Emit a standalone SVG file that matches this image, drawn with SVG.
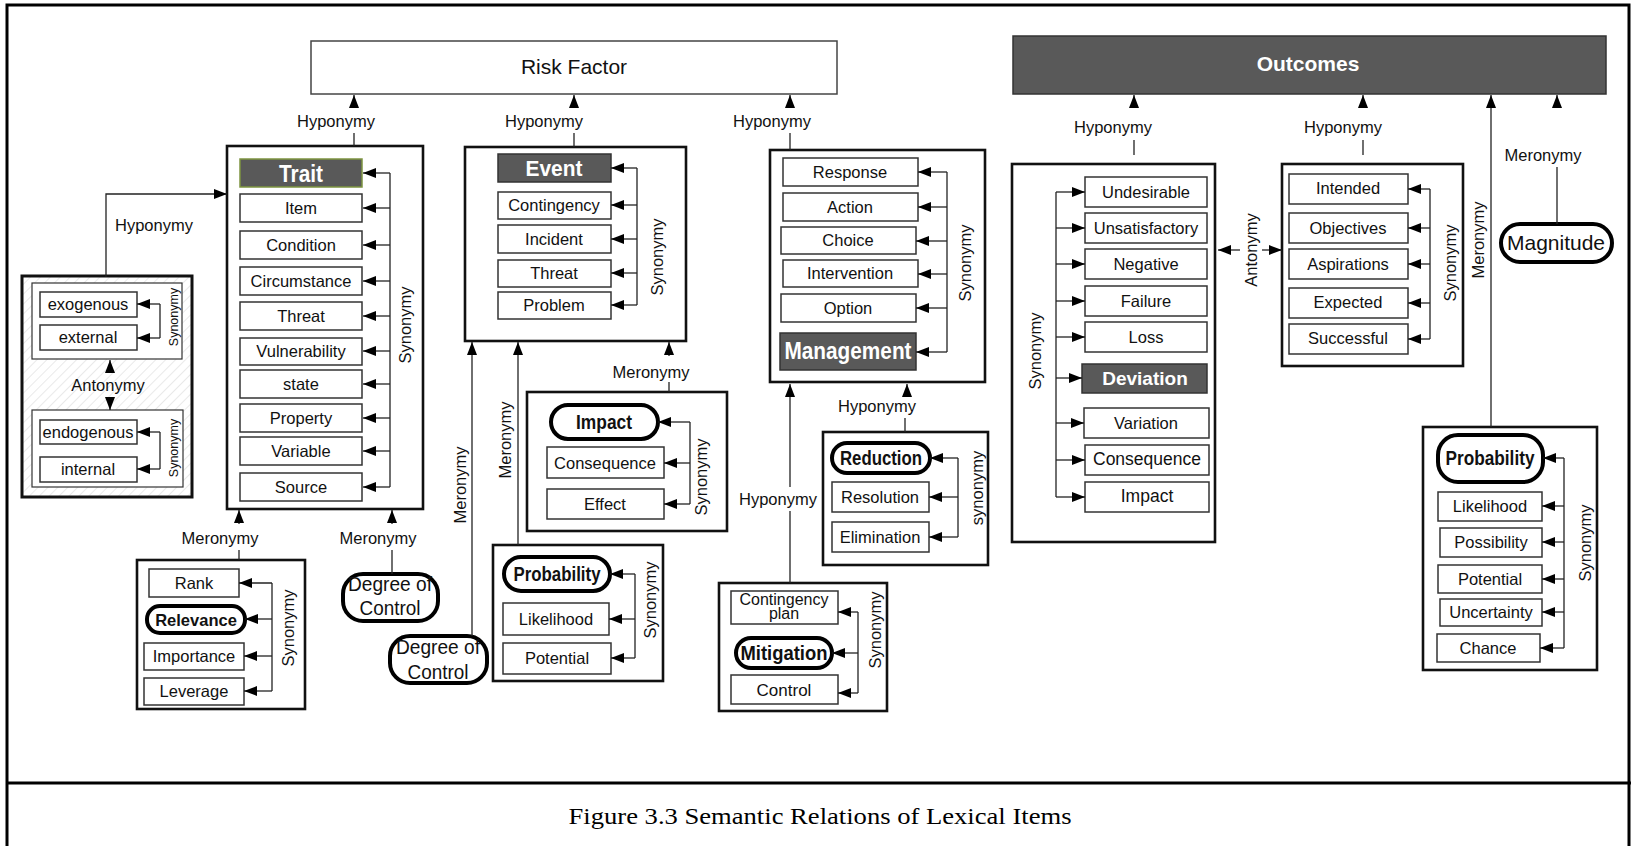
<svg xmlns="http://www.w3.org/2000/svg" width="1631" height="846" viewBox="0 0 1631 846">
<style>
.grp{fill:#fff;stroke:#111;stroke-width:2.6}
.box{fill:#fff;stroke:#333;stroke-width:1.5}
.key{fill:#fff;stroke:#000;stroke-width:4}
.hdr{fill:#595959;stroke:#333;stroke-width:1.5}
.ln{fill:none;stroke:#222;stroke-width:1.3}
.t{font-family:"Liberation Sans",Arial,sans-serif;font-size:16.5px;fill:#111;text-anchor:middle;dominant-baseline:central}
.s{font-size:12.5px}
.b{font-weight:bold}
.w{font-weight:bold;fill:#fff}
.dc{font-size:20px}
</style>
<defs>
<marker id="ah" viewBox="0 0 13 10" refX="13" refY="5" markerWidth="13" markerHeight="10" markerUnits="userSpaceOnUse" orient="auto-start-reverse">
<path d="M0,0 L13,5 L0,10 z" fill="#000"/>
</marker>
<pattern id="hatch" width="7" height="7" patternUnits="userSpaceOnUse" patternTransform="rotate(45)">
<rect width="7" height="7" fill="#fff"/>
<line x1="0" y1="0" x2="0" y2="7" stroke="#e2e2e2" stroke-width="1.5"/>
</pattern>
</defs>

<!-- page frame and caption -->
<g id="frame">
<path d="M7,846 V5 H1629 V846" fill="none" stroke="#000" stroke-width="3"/>
<path d="M7,783 H1631" stroke="#000" stroke-width="3"/>
<text x="820" y="816" textLength="503" lengthAdjust="spacingAndGlyphs" style="font-family:'Liberation Serif','Times New Roman',serif;font-size:24px;fill:#000;text-anchor:middle;dominant-baseline:central">Figure 3.3 Semantic Relations of Lexical Items</text>
</g>

<!-- nodes -->
<g id="risk-factor">
<rect x="311" y="41" width="526" height="53" fill="#fff" stroke="#444" stroke-width="1.5"/>
<text class="t" x="574" y="66" style="font-size:21px">Risk Factor</text>
</g>

<g id="outcomes">
<rect x="1013" y="36" width="593" height="58" fill="#595959" stroke="#333" stroke-width="1.5"/>
<text class="t w" x="1308" y="63" style="font-size:21px">Outcomes</text>
</g>

<g id="trait-group">
<rect class="grp" x="227" y="146" width="196" height="363"/>
<rect x="240" y="159" width="122" height="28" fill="#595959" stroke="#7d9440" stroke-width="1.5"/>
<text class="t w" x="301" y="174" style="font-size:23px" textLength="44" lengthAdjust="spacingAndGlyphs">Trait</text>
<rect class="box" x="240" y="194" width="122" height="28"/><text class="t" x="301" y="208">Item</text>
<rect class="box" x="240" y="231" width="122" height="28"/><text class="t" x="301" y="245">Condition</text>
<rect class="box" x="240" y="267" width="122" height="28"/><text class="t" x="301" y="281">Circumstance</text>
<rect class="box" x="240" y="302" width="122" height="28"/><text class="t" x="301" y="316">Threat</text>
<rect class="box" x="240" y="338" width="122" height="27"/><text class="t" x="301" y="351">Vulnerability</text>
<rect class="box" x="240" y="370" width="122" height="28"/><text class="t" x="301" y="384">state</text>
<rect class="box" x="240" y="404" width="122" height="28"/><text class="t" x="301" y="418">Property</text>
<rect class="box" x="240" y="437" width="122" height="28"/><text class="t" x="301" y="451">Variable</text>
<rect class="box" x="240" y="473" width="122" height="28"/><text class="t" x="301" y="487">Source</text>
</g>

<g id="exo-endo-group">
<rect x="22" y="276" width="170" height="221" fill="url(#hatch)" stroke="#111" stroke-width="3"/>
<rect x="32" y="283" width="150" height="76" fill="#fff" stroke="#333" stroke-width="1.2"/>
<rect x="32" y="410" width="151" height="77" fill="#fff" stroke="#333" stroke-width="1.2"/>
<rect class="box" x="40" y="292" width="97" height="25"/><text class="t" x="88" y="304">exogenous</text>
<rect class="box" x="40" y="325" width="97" height="25"/><text class="t" x="88" y="337">external</text>
<rect class="box" x="40" y="420" width="97" height="24"/><text class="t" x="88" y="432">endogenous</text>
<rect class="box" x="40" y="457" width="97" height="25"/><text class="t" x="88" y="469">internal</text>
<text class="t s" transform="rotate(-90 174 317)" x="174" y="317">Synonymy</text>
<text class="t s" transform="rotate(-90 174 448)" x="174" y="448">Synonymy</text>
<text class="t" x="108" y="385">Antonymy</text>
</g>

<g id="rank-group">
<rect class="grp" x="137" y="560" width="168" height="149"/>
<rect class="box" x="149" y="569" width="90" height="28"/><text class="t" x="194" y="583">Rank</text>
<rect class="key" x="147" y="606" width="98" height="27" rx="13"/><text class="t b" x="196" y="620">Relevance</text>
<rect class="box" x="144" y="643" width="100" height="27"/><text class="t" x="194" y="656">Importance</text>
<rect class="box" x="144" y="678" width="100" height="27"/><text class="t" x="194" y="691">Leverage</text>
</g>

<g id="degree-of-control-1">
<rect class="key" x="343" y="574" width="95" height="47" rx="20"/>
<text class="t dc" x="390" y="584" textLength="84" lengthAdjust="spacingAndGlyphs">Degree of</text>
<text class="t dc" x="390" y="608" textLength="61" lengthAdjust="spacingAndGlyphs">Control</text>
</g>

<g id="degree-of-control-2">
<rect class="key" x="390" y="636" width="97" height="47" rx="20"/>
<text class="t dc" x="438" y="647" textLength="84" lengthAdjust="spacingAndGlyphs">Degree of</text>
<text class="t dc" x="438" y="672" textLength="61" lengthAdjust="spacingAndGlyphs">Control</text>
</g>

<g id="event-group">
<rect class="grp" x="465" y="147" width="221" height="194"/>
<rect class="hdr" x="498" y="154" width="113" height="28"/>
<text class="t w" x="554" y="168" style="font-size:22px" textLength="57" lengthAdjust="spacingAndGlyphs">Event</text>
<rect class="box" x="498" y="192" width="113" height="27"/><text class="t" x="554" y="205">Contingency</text>
<rect class="box" x="498" y="225" width="113" height="28"/><text class="t" x="554" y="239">Incident</text>
<rect class="box" x="498" y="260" width="113" height="27"/><text class="t" x="554" y="273">Threat</text>
<rect class="box" x="498" y="292" width="113" height="27"/><text class="t" x="554" y="305">Problem</text>
</g>

<g id="impact-group">
<rect class="grp" x="527" y="392" width="200" height="139"/>
<rect class="key" x="551" y="405" width="107" height="34" rx="17"/>
<text class="t b" x="604" y="422" style="font-size:20px" textLength="56" lengthAdjust="spacingAndGlyphs">Impact</text>
<rect class="box" x="547" y="447" width="117" height="31"/><text class="t" x="605" y="463">Consequence</text>
<rect class="box" x="547" y="489" width="117" height="30"/><text class="t" x="605" y="504">Effect</text>
</g>

<g id="probability-group-mid">
<rect class="grp" x="493" y="545" width="170" height="136"/>
<rect class="key" x="504" y="557" width="106" height="34" rx="17"/>
<text class="t b" x="557" y="574" style="font-size:20px" textLength="87" lengthAdjust="spacingAndGlyphs">Probability</text>
<rect class="box" x="503" y="603" width="106" height="32"/><text class="t" x="556" y="619">Likelihood</text>
<rect class="box" x="503" y="643" width="108" height="31"/><text class="t" x="557" y="658">Potential</text>
</g>

<g id="management-group">
<rect class="grp" x="770" y="150" width="215" height="232"/>
<rect class="box" x="783" y="158" width="135" height="28"/><text class="t" x="850" y="172">Response</text>
<rect class="box" x="783" y="193" width="135" height="28"/><text class="t" x="850" y="207">Action</text>
<rect class="box" x="781" y="227" width="135" height="27"/><text class="t" x="848" y="240">Choice</text>
<rect class="box" x="783" y="260" width="135" height="27"/><text class="t" x="850" y="273">Intervention</text>
<rect class="box" x="781" y="294" width="135" height="28"/><text class="t" x="848" y="308">Option</text>
<rect class="hdr" x="780" y="333" width="136" height="37"/>
<text class="t w" x="848" y="351" style="font-size:23px" textLength="127" lengthAdjust="spacingAndGlyphs">Management</text>
</g>

<g id="reduction-group">
<rect class="grp" x="823" y="432" width="165" height="133"/>
<rect class="key" x="832" y="443" width="98" height="30" rx="15"/>
<text class="t b" x="881" y="458" style="font-size:20px" textLength="82" lengthAdjust="spacingAndGlyphs">Reduction</text>
<rect class="box" x="832" y="482" width="97" height="30"/><text class="t" x="880" y="497">Resolution</text>
<rect class="box" x="832" y="522" width="97" height="30"/><text class="t" x="880" y="537">Elimination</text>
</g>

<g id="mitigation-group">
<rect class="grp" x="719" y="583" width="168" height="128"/>
<rect class="box" x="731" y="591" width="107" height="33"/>
<text class="t" x="784" y="599" style="font-size:16px">Contingency</text>
<text class="t" x="784" y="613" style="font-size:16px">plan</text>
<rect class="key" x="736" y="638" width="96" height="30" rx="15"/>
<text class="t b" x="784" y="653" style="font-size:20px" textLength="87" lengthAdjust="spacingAndGlyphs">Mitigation</text>
<rect class="box" x="731" y="675" width="107" height="29"/><text class="t" x="784" y="690" style="font-size:17px">Control</text>
</g>

<g id="undesirable-group">
<rect class="grp" x="1012" y="164" width="203" height="378"/>
<rect class="box" x="1085" y="177" width="122" height="30"/><text class="t" x="1146" y="192">Undesirable</text>
<rect class="box" x="1085" y="213" width="122" height="30"/><text class="t" x="1146" y="228">Unsatisfactory</text>
<rect class="box" x="1085" y="249" width="122" height="30"/><text class="t" x="1146" y="264">Negative</text>
<rect class="box" x="1085" y="286" width="122" height="30"/><text class="t" x="1146" y="301">Failure</text>
<rect class="box" x="1085" y="322" width="122" height="30"/><text class="t" x="1146" y="337">Loss</text>
<rect class="hdr" x="1082" y="364" width="125" height="29"/>
<text class="t w" x="1145" y="378" style="font-size:19px">Deviation</text>
<rect class="box" x="1084" y="408" width="125" height="30"/><text class="t" x="1146" y="423">Variation</text>
<rect class="box" x="1085" y="445" width="124" height="30"/><text class="t" x="1147" y="459" style="font-size:17.5px">Consequence</text>
<rect class="box" x="1085" y="482" width="124" height="30"/><text class="t" x="1147" y="496" style="font-size:17.5px">Impact</text>
</g>

<g id="intended-group">
<rect class="grp" x="1282" y="164" width="181" height="202"/>
<rect class="box" x="1289" y="174" width="119" height="30"/><text class="t" x="1348" y="188">Intended</text>
<rect class="box" x="1289" y="213" width="119" height="30"/><text class="t" x="1348" y="228">Objectives</text>
<rect class="box" x="1289" y="249" width="119" height="30"/><text class="t" x="1348" y="264">Aspirations</text>
<rect class="box" x="1289" y="288" width="119" height="30"/><text class="t" x="1348" y="302">Expected</text>
<rect class="box" x="1289" y="324" width="119" height="30"/><text class="t" x="1348" y="338">Successful</text>
</g>

<g id="magnitude">
<rect class="key" x="1501" y="224" width="111" height="38" rx="19"/>
<text class="t" x="1556" y="242" style="font-size:21px">Magnitude</text>
</g>

<g id="probability-group-right">
<rect class="grp" x="1423" y="427" width="174" height="243"/>
<rect class="key" x="1438" y="435" width="105" height="47" rx="20"/>
<text class="t b" x="1490" y="458" style="font-size:20px" textLength="89" lengthAdjust="spacingAndGlyphs">Probability</text>
<rect class="box" x="1438" y="492" width="104" height="29"/><text class="t" x="1490" y="506">Likelihood</text>
<rect class="box" x="1440" y="528" width="102" height="29"/><text class="t" x="1491" y="542">Possibility</text>
<rect class="box" x="1438" y="565" width="104" height="28"/><text class="t" x="1490" y="579">Potential</text>
<rect class="box" x="1440" y="599" width="102" height="27"/><text class="t" x="1491" y="612">Uncertainty</text>
<rect class="box" x="1437" y="634" width="103" height="28"/><text class="t" x="1488" y="648">Chance</text>
</g>

<!-- connectors -->
<g id="connectors">
<!-- Risk Factor hyponymy links -->
<path class="ln" d="M354,108 V95" marker-end="url(#ah)"/><path class="ln" d="M354,133 V146"/>
<text class="t" x="336" y="121">Hyponymy</text>
<path class="ln" d="M574,108 V95" marker-end="url(#ah)"/><path class="ln" d="M574,133 V147"/>
<text class="t" x="544" y="121">Hyponymy</text>
<path class="ln" d="M790,108 V95" marker-end="url(#ah)"/><path class="ln" d="M790,133 V150"/>
<text class="t" x="772" y="121">Hyponymy</text>

<!-- exogenous/endogenous to Trait -->
<path class="ln" d="M106,277 V194 H227" marker-end="url(#ah)"/>
<text class="t" x="154" y="225">Hyponymy</text>

<!-- Trait synonymy -->
<path class="ln" d="M390,173 V487"/>
<path class="ln" d="M390,173 H363" marker-end="url(#ah)"/>
<path class="ln" d="M390,208 H363" marker-end="url(#ah)"/>
<path class="ln" d="M390,245 H363" marker-end="url(#ah)"/>
<path class="ln" d="M390,281 H363" marker-end="url(#ah)"/>
<path class="ln" d="M390,316 H363" marker-end="url(#ah)"/>
<path class="ln" d="M390,351 H363" marker-end="url(#ah)"/>
<path class="ln" d="M390,384 H363" marker-end="url(#ah)"/>
<path class="ln" d="M390,418 H363" marker-end="url(#ah)"/>
<path class="ln" d="M390,451 H363" marker-end="url(#ah)"/>
<path class="ln" d="M390,487 H363" marker-end="url(#ah)"/>
<text class="t" transform="rotate(-90 405 325)" x="405" y="325">Synonymy</text>

<!-- exo / endo synonymy and antonymy -->
<path class="ln" d="M160,304 V338"/>
<path class="ln" d="M160,304 H137" marker-end="url(#ah)"/>
<path class="ln" d="M160,338 H137" marker-end="url(#ah)"/>
<path class="ln" d="M160,432 V469"/>
<path class="ln" d="M160,432 H137" marker-end="url(#ah)"/>
<path class="ln" d="M160,469 H137" marker-end="url(#ah)"/>
<path class="ln" d="M110,373 V360" marker-end="url(#ah)"/>
<path class="ln" d="M110,397 V410" marker-end="url(#ah)"/>

<!-- Rank group and Degree of Control to Trait -->
<path class="ln" d="M239,524 V510" marker-end="url(#ah)"/><path class="ln" d="M239,550 V560"/>
<text class="t" x="220" y="538">Meronymy</text>
<path class="ln" d="M392,524 V510" marker-end="url(#ah)"/><path class="ln" d="M392,550 V574"/>
<text class="t" x="378" y="538">Meronymy</text>
<path class="ln" d="M272,583 V691"/>
<path class="ln" d="M272,583 H239" marker-end="url(#ah)"/>
<path class="ln" d="M272,619 H245" marker-end="url(#ah)"/>
<path class="ln" d="M272,656 H244" marker-end="url(#ah)"/>
<path class="ln" d="M272,691 H244" marker-end="url(#ah)"/>
<text class="t" transform="rotate(-90 288 628)" x="288" y="628">Synonymy</text>

<!-- links into Event -->
<path class="ln" d="M472,636 V342" marker-end="url(#ah)"/>
<text class="t" transform="rotate(-90 460 485)" x="460" y="485">Meronymy</text>
<path class="ln" d="M518,545 V342" marker-end="url(#ah)"/>
<text class="t" transform="rotate(-90 505 440)" x="505" y="440">Meronymy</text>
<path class="ln" d="M669,356 V342" marker-end="url(#ah)"/><path class="ln" d="M669,382 V392"/>
<text class="t" x="651" y="372">Meronymy</text>

<!-- Event synonymy -->
<path class="ln" d="M637,168 V305"/>
<path class="ln" d="M637,168 H611" marker-end="url(#ah)"/>
<path class="ln" d="M637,205 H611" marker-end="url(#ah)"/>
<path class="ln" d="M637,239 H611" marker-end="url(#ah)"/>
<path class="ln" d="M637,273 H611" marker-end="url(#ah)"/>
<path class="ln" d="M637,305 H611" marker-end="url(#ah)"/>
<text class="t" transform="rotate(-90 657 257)" x="657" y="257">Synonymy</text>

<!-- Impact synonymy -->
<path class="ln" d="M690,422 V504"/>
<path class="ln" d="M690,422 H658" marker-end="url(#ah)"/>
<path class="ln" d="M690,463 H664" marker-end="url(#ah)"/>
<path class="ln" d="M690,504 H664" marker-end="url(#ah)"/>
<text class="t" transform="rotate(-90 701 477)" x="701" y="477">Synonymy</text>

<!-- Probability (middle) synonymy -->
<path class="ln" d="M635,574 V658"/>
<path class="ln" d="M635,574 H610" marker-end="url(#ah)"/>
<path class="ln" d="M635,619 H609" marker-end="url(#ah)"/>
<path class="ln" d="M635,658 H611" marker-end="url(#ah)"/>
<text class="t" transform="rotate(-90 650 600)" x="650" y="600">Synonymy</text>

<!-- Management synonymy -->
<path class="ln" d="M947,172 V352"/>
<path class="ln" d="M947,172 H918" marker-end="url(#ah)"/>
<path class="ln" d="M947,207 H918" marker-end="url(#ah)"/>
<path class="ln" d="M947,241 H916" marker-end="url(#ah)"/>
<path class="ln" d="M947,274 H918" marker-end="url(#ah)"/>
<path class="ln" d="M947,308 H916" marker-end="url(#ah)"/>
<path class="ln" d="M947,352 H916" marker-end="url(#ah)"/>
<text class="t" transform="rotate(-90 965 263)" x="965" y="263">Synonymy</text>

<!-- links into Management -->
<path class="ln" d="M790,487 V384" marker-end="url(#ah)"/><path class="ln" d="M790,511 V583"/>
<text class="t" x="778" y="499">Hyponymy</text>
<path class="ln" d="M907,397 V384" marker-end="url(#ah)"/><path class="ln" d="M905,418 V432"/>
<text class="t" x="877" y="406">Hyponymy</text>

<!-- Reduction synonymy -->
<path class="ln" d="M958,458 V537"/>
<path class="ln" d="M958,458 H930" marker-end="url(#ah)"/>
<path class="ln" d="M958,497 H929" marker-end="url(#ah)"/>
<path class="ln" d="M958,537 H929" marker-end="url(#ah)"/>
<text class="t" transform="rotate(-90 977 488)" x="977" y="488">synonymy</text>

<!-- Mitigation synonymy -->
<path class="ln" d="M858,612 V693"/>
<path class="ln" d="M858,612 H838" marker-end="url(#ah)"/>
<path class="ln" d="M858,653 H832" marker-end="url(#ah)"/>
<path class="ln" d="M858,693 H838" marker-end="url(#ah)"/>
<text class="t" transform="rotate(-90 875 630)" x="875" y="630">Synonymy</text>

<!-- Outcomes links -->
<path class="ln" d="M1134,108 V95" marker-end="url(#ah)"/><path class="ln" d="M1134,140 V155"/>
<text class="t" x="1113" y="127">Hyponymy</text>
<path class="ln" d="M1363,108 V95" marker-end="url(#ah)"/><path class="ln" d="M1363,140 V155"/>
<text class="t" x="1343" y="127">Hyponymy</text>
<path class="ln" d="M1491,427 V95" marker-end="url(#ah)"/>
<text class="t" transform="rotate(-90 1478 240)" x="1478" y="240">Meronymy</text>
<path class="ln" d="M1557,108 V95" marker-end="url(#ah)"/><path class="ln" d="M1557,167 V224"/>
<text class="t" x="1543" y="155">Meronymy</text>

<!-- Undesirable synonymy -->
<path class="ln" d="M1056,192 V497"/>
<path class="ln" d="M1056,192 H1085" marker-end="url(#ah)"/>
<path class="ln" d="M1056,228 H1085" marker-end="url(#ah)"/>
<path class="ln" d="M1056,264 H1085" marker-end="url(#ah)"/>
<path class="ln" d="M1056,301 H1085" marker-end="url(#ah)"/>
<path class="ln" d="M1056,337 H1085" marker-end="url(#ah)"/>
<path class="ln" d="M1056,378 H1082" marker-end="url(#ah)"/>
<path class="ln" d="M1056,423 H1084" marker-end="url(#ah)"/>
<path class="ln" d="M1056,460 H1085" marker-end="url(#ah)"/>
<path class="ln" d="M1056,497 H1085" marker-end="url(#ah)"/>
<text class="t" transform="rotate(-90 1035 351)" x="1035" y="351">Synonymy</text>

<!-- antonymy between outcome groups -->
<path class="ln" d="M1240,250 H1218" marker-end="url(#ah)"/>
<path class="ln" d="M1262,250 H1282" marker-end="url(#ah)"/>
<text class="t" transform="rotate(-90 1251 250)" x="1251" y="250">Antonymy</text>

<!-- Intended synonymy -->
<path class="ln" d="M1430,189 V339"/>
<path class="ln" d="M1430,189 H1408" marker-end="url(#ah)"/>
<path class="ln" d="M1430,228 H1408" marker-end="url(#ah)"/>
<path class="ln" d="M1430,264 H1408" marker-end="url(#ah)"/>
<path class="ln" d="M1430,303 H1408" marker-end="url(#ah)"/>
<path class="ln" d="M1430,339 H1408" marker-end="url(#ah)"/>
<text class="t" transform="rotate(-90 1450 263)" x="1450" y="263">Synonymy</text>

<!-- Probability (right) synonymy -->
<path class="ln" d="M1564,458 V648"/>
<path class="ln" d="M1564,458 H1543" marker-end="url(#ah)"/>
<path class="ln" d="M1564,506 H1542" marker-end="url(#ah)"/>
<path class="ln" d="M1564,542 H1542" marker-end="url(#ah)"/>
<path class="ln" d="M1564,579 H1542" marker-end="url(#ah)"/>
<path class="ln" d="M1564,612 H1542" marker-end="url(#ah)"/>
<path class="ln" d="M1564,648 H1540" marker-end="url(#ah)"/>
<text class="t" transform="rotate(-90 1585 543)" x="1585" y="543">Synonymy</text>
</g>
</svg>
